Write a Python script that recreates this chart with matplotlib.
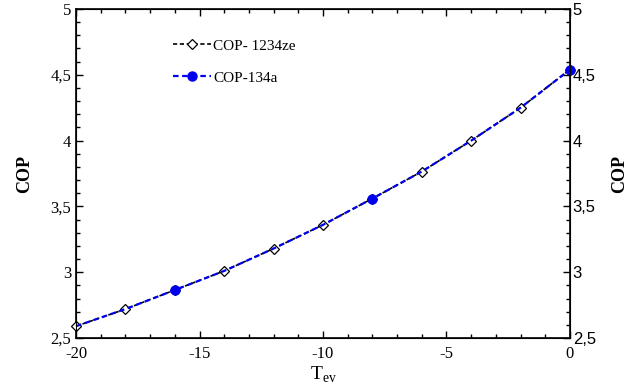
import matplotlib
matplotlib.use("Agg")
import matplotlib.pyplot as plt
from matplotlib.ticker import MultipleLocator, FuncFormatter

t_ev = [-20, -18, -16, -14, -12, -10, -8, -6, -4, -2, 0]
cop_1234ze = [2.59, 2.72, 2.865, 3.01, 3.18, 3.36, 3.56, 3.765, 4.00, 4.25, 4.54]
cop_134a = [2.59, 2.72, 2.865, 3.01, 3.18, 3.36, 3.56, 3.765, 4.00, 4.25, 4.54]
label_1234ze = "COP- 1234ze"
label_134a = "COP-134a"

serif = ["Liberation Serif", "DejaVu Serif"]
sans = ["Liberation Sans", "DejaVu Sans"]

plt.rcParams["font.family"] = serif
plt.rcParams["axes.unicode_minus"] = False
plt.rcParams["mathtext.fontset"] = "custom"
plt.rcParams["mathtext.rm"] = "Liberation Serif"

fig = plt.figure(figsize=(6.35, 3.85), dpi=100)
ax = fig.add_axes([0.1197, 0.122, 0.7779, 0.8546])

ax.plot(t_ev, cop_1234ze, linestyle="--", dashes=(2.5, 1.6), color="black", linewidth=1.2,
        marker="D", markersize=5.5, markerfacecolor="white",
        markeredgecolor="black", markeredgewidth=0.9, label=label_1234ze,
        clip_on=False, zorder=3)
ax.plot(t_ev, cop_134a, linestyle="--", dashes=(2.5, 1.6), color="#0000ee", linewidth=1.6,
        marker="o", markersize=6.5, markevery=(2, 4), label=label_134a,
        clip_on=False, zorder=4)

ax.set_xlim(-20, 0)
ax.set_ylim(2.5, 5)

fmt = FuncFormatter(lambda v, p: ("%g" % v).replace(".", ","))
ax.xaxis.set_major_locator(MultipleLocator(5))
ax.xaxis.set_minor_locator(MultipleLocator(1))
ax.yaxis.set_major_locator(MultipleLocator(0.5))
ax.yaxis.set_minor_locator(MultipleLocator(0.1))
ax.yaxis.set_major_formatter(fmt)

ax.tick_params(which="both", direction="in", top=True, right=False)
ax.tick_params(which="major", length=5, width=1, labelsize=12, labelfontfamily="Liberation Serif")
ax.tick_params(which="minor", length=3, width=1)
ax.tick_params(axis="x", pad=6)

for s in ax.spines.values():
    s.set_linewidth(1.2)

ax2 = ax.twinx()
ax2.set_ylim(2.5, 5)
ax2.yaxis.set_major_locator(MultipleLocator(0.5))
ax2.yaxis.set_minor_locator(MultipleLocator(0.1))
ax2.yaxis.set_major_formatter(fmt)
ax2.tick_params(which="both", direction="in")
ax2.tick_params(which="major", length=5, width=1, pad=2, labelsize=12,
                labelfontfamily="Liberation Sans")
ax2.tick_params(which="minor", length=3, width=1)

ax.set_ylabel("COP", fontweight="bold", fontsize=13, labelpad=12)
ax2.set_ylabel("COP", fontweight="bold", fontsize=13, labelpad=11)
ax.set_xlabel(r"T$_{\mathrm{ev}}$", fontsize=14, labelpad=2)

leg = ax.legend(loc="upper left", bbox_to_anchor=(0.169, 0.951), frameon=False,
                prop={"family": serif, "size": 11}, handlelength=2.5,
                handletextpad=0.1, labelspacing=1.2)

fig.savefig("out.png", dpi=100)
